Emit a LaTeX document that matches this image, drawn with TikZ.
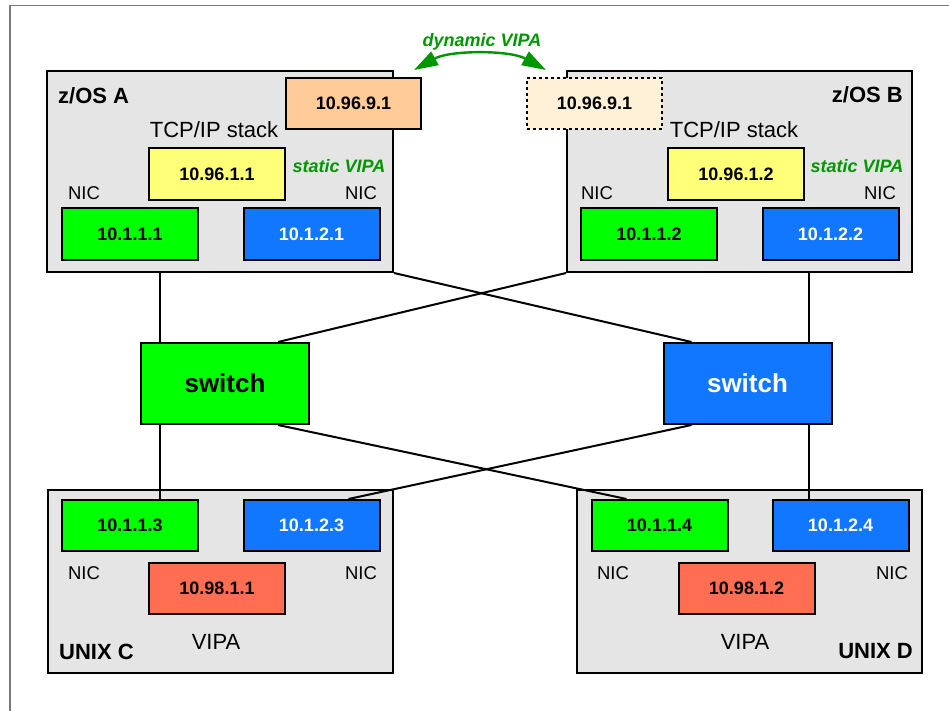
\documentclass[tikz,border=0pt]{standalone}
\usepackage{fontspec}
\setmainfont{Liberation Sans}
\usetikzlibrary{arrows.meta,calc}
\definecolor{boxgray}{RGB}{229,229,229}
\definecolor{nicgreen}{RGB}{0,255,0}
\definecolor{nicblue}{RGB}{18,119,255}
\definecolor{vipayellow}{RGB}{255,255,120}
\definecolor{vipaorange}{RGB}{255,204,153}
\definecolor{vipapale}{RGB}{255,240,216}
\definecolor{vipared}{RGB}{255,110,82}
\definecolor{labgreen}{RGB}{0,150,0}
\definecolor{framegray}{RGB}{120,120,120}
\begin{document}
\begin{tikzpicture}[x=1pt,y=-1pt,
  host/.style={draw, line width=2pt, fill=boxgray, inner sep=0pt},
  ipbox/.style={draw, line width=2pt, minimum width=136pt, minimum height=52pt, inner sep=0pt, font=\fontsize{18}{20}\selectfont\bfseries},
  nicg/.style={ipbox, fill=nicgreen},
  nicb/.style={ipbox, fill=nicblue, text=white},
  svipa/.style={ipbox, fill=vipayellow},
  dvipa/.style={ipbox, fill=vipaorange},
  dvipaghost/.style={ipbox, fill=vipapale, dash pattern=on 3pt off 3pt},
  uvipa/.style={ipbox, fill=vipared},
  switchbox/.style={draw, line width=2pt, minimum width=168pt, minimum height=81pt, inner sep=0pt, font=\fontsize{26}{28}\selectfont\bfseries},
  hostlabel/.style={font=\fontsize{22}{24}\selectfont\bfseries, inner sep=0pt},
  plain/.style={font=\fontsize{22}{24}\selectfont, inner sep=0pt},
  niclabel/.style={font=\fontsize{18.5}{20}\selectfont, inner sep=0pt},
  greenlabel/.style={font=\fontsize{18}{20}\selectfont\bfseries\itshape, text=labgreen, inner sep=0pt},
  link/.style={line width=2pt},
  move/.style={line width=2.4pt, draw=labgreen, {Triangle[length=24pt,width=15pt,fill=labgreen]}-{Triangle[length=24pt,width=15pt,fill=labgreen]}}
]
\useasboundingbox (0,0) rectangle (949,711);
\draw[framegray, line width=1.3pt] (10,712) -- (10,5.5) -- (950,5.5);

% hosts
\node[host, minimum width=346pt, minimum height=201pt] (zA) at (220,171.5) {};
\node[host, minimum width=345pt, minimum height=201pt] (zB) at (739.5,171.5) {};
\node[host, minimum width=345pt, minimum height=183pt] (uC) at (220.5,581.5) {};
\node[host, minimum width=345pt, minimum height=183pt] (uD) at (749.5,581.5) {};

% z/OS A
\node[hostlabel, anchor=west] (zAlab) at (58,96) {z/OS A};
\node[dvipa, minimum width=135pt, minimum height=51pt] (dA) at (353.5,103.5) {10.96.9.1};
\node[plain] (tcpA) at (214,130) {TCP/IP stack};
\node[svipa] (sA) at (217,174) {10.96.1.1};
\node[greenlabel] (stA) at (339,166) {static VIPA};
\node[niclabel] (nicA1) at (84,193) {NIC};
\node[niclabel] (nicA2) at (361,193) {NIC};
\node[nicg] (gA) at (130,234) {10.1.1.1};
\node[nicb] (bA) at (311.5,234) {10.1.2.1};

% z/OS B
\node[hostlabel, anchor=east] (zBlab) at (903,95) {z/OS B};
\node[dvipaghost, minimum width=135pt, minimum height=51pt] (dB) at (594.5,103.5) {10.96.9.1};
\node[plain] (tcpB) at (734,130) {TCP/IP stack};
\node[svipa] (sB) at (736,174) {10.96.1.2};
\node[greenlabel] (stB) at (857,166) {static VIPA};
\node[niclabel] (nicB1) at (597,193) {NIC};
\node[niclabel] (nicB2) at (880,193) {NIC};
\node[nicg] (gB) at (649,234) {10.1.1.2};
\node[nicb] (bB) at (830.5,234) {10.1.2.2};

% dynamic VIPA move
\node[greenlabel] (dyn) at (482,42) {dynamic VIPA};
\coordinate (arrL) at (414,70);
\coordinate (arrR) at (546,70);
\draw[move] (arrL) .. controls (450,50) and (510,50) .. (arrR);

% switches
\node[switchbox, fill=nicgreen] (sw1) at (225,383.5) {switch};
\node[switchbox, fill=nicblue, text=white] (sw2) at (747.5,383.5) {switch};

% UNIX C
\node[nicg, minimum height=51pt] (gC) at (130,525.5) {10.1.1.3};
\node[nicb, minimum height=51pt] (bC) at (311.5,525.5) {10.1.2.3};
\node[niclabel] (nicC1) at (84,573) {NIC};
\node[niclabel] (nicC2) at (361,573) {NIC};
\node[uvipa, minimum height=51pt] (rC) at (217,588.5) {10.98.1.1};
\node[plain] (vC) at (216,642) {VIPA};
\node[hostlabel, anchor=west] (uClab) at (59,652) {UNIX C};

% UNIX D
\node[nicg, minimum height=51pt] (gD) at (659.5,525.5) {10.1.1.4};
\node[nicb, minimum height=51pt] (bD) at (840.5,525.5) {10.1.2.4};
\node[niclabel] (nicD1) at (613,573) {NIC};
\node[niclabel] (nicD2) at (892,573) {NIC};
\node[uvipa, minimum height=51pt] (rD) at (746.5,588.5) {10.98.1.2};
\node[plain] (vD) at (745,642) {VIPA};
\node[hostlabel, anchor=east] (uDlab) at (913,651) {UNIX D};

% links
\draw[link] ([xshift=20pt]sw1.north west) -- ([xshift=20pt]sw1.north west |- zA.south);
\draw[link] ([xshift=20pt]sw1.south west) -- ([xshift=20pt]sw1.south west |- gC.north);
\draw[link] ([xshift=-24pt]sw2.north east) -- ([xshift=-24pt]sw2.north east |- zB.south);
\draw[link] ([xshift=-24pt]sw2.south east) -- ([xshift=-24pt]sw2.south east |- bD.north);
\draw[link] ([xshift=-32pt]sw1.north east) -- (zB.south west);
\draw[link] ([xshift=29pt]sw2.north west) -- (zA.south east);
\draw[link] ([xshift=-32pt]sw1.south east) -- ([xshift=36pt]gD.north west);
\draw[link] ([xshift=29pt]sw2.south west) -- ([xshift=-32pt]bC.north east);
\end{tikzpicture}
\end{document}
